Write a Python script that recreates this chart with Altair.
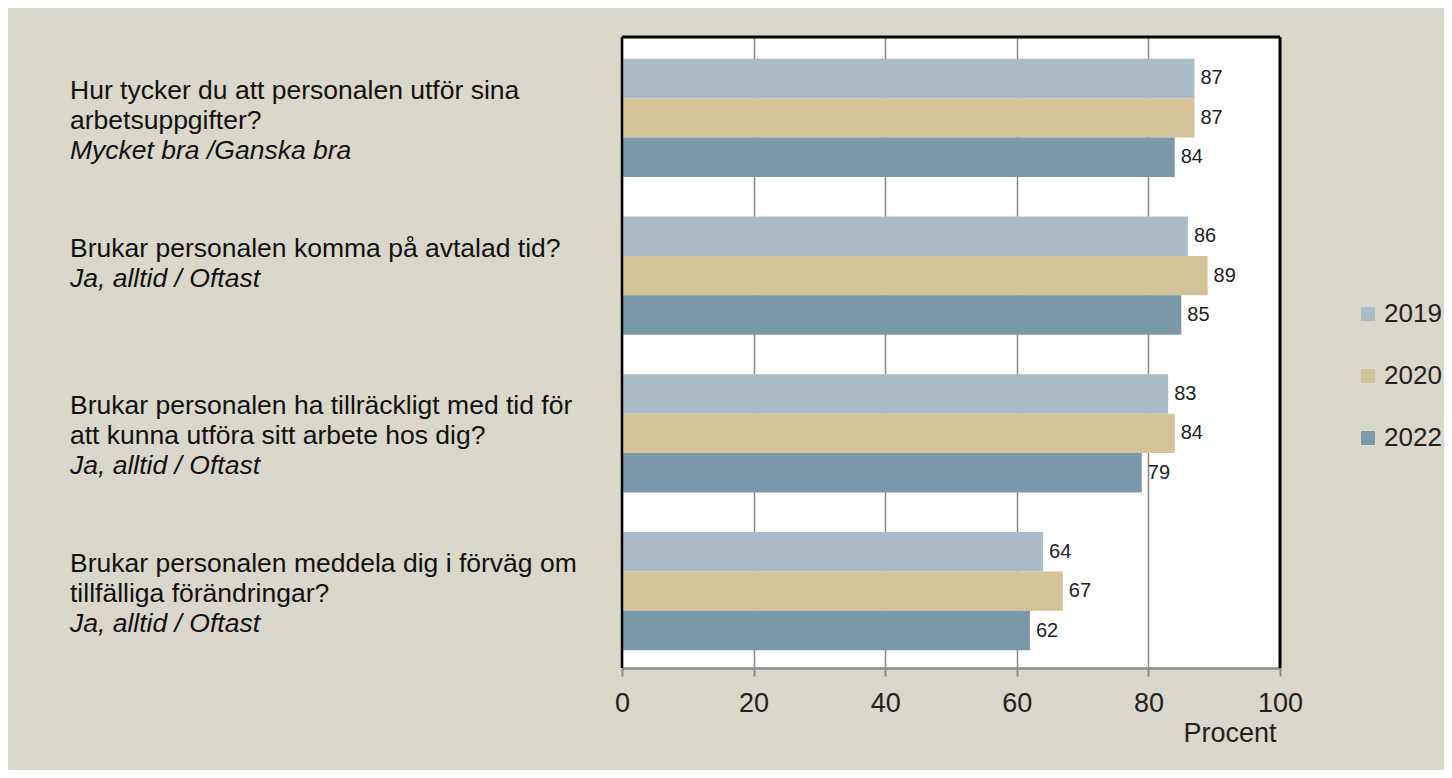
import altair as alt
import pandas as pd

# ---- data ----
keys = ["q1", "q2", "q3", "q4"]
question_lines = [
    ["Hur tycker du att personalen utför sina", "arbetsuppgifter?"],
    ["Brukar personalen komma på avtalad tid?"],
    ["Brukar personalen ha tillräckligt med tid för", "att kunna utföra sitt arbete hos dig?"],
    ["Brukar personalen meddela dig i förväg om", "tillfälliga förändringar?"],
]
answers = ["Mycket bra /Ganska bra", "Ja, alltid / Oftast", "Ja, alltid / Oftast", "Ja, alltid / Oftast"]
years = ["2019", "2020", "2022"]
v2019 = [87, 86, 83, 64]
v2020 = [87, 89, 84, 67]
v2022 = [84, 85, 79, 62]
colors = ["#a9bcc7", "#d4c299", "#7c99aa"]
x_ticks = [0, 20, 40, 60, 80, 100]

# ---- tables ----
rows = []
for i, k in enumerate(keys):
    for y, vals in zip(years, [v2019, v2020, v2022]):
        rows.append({"key": k, "year": y, "value": vals[i]})
bars_df = pd.DataFrame(rows)

trows = []
for i, k in enumerate(keys):
    lines = question_lines[i]
    for j, t in enumerate(lines):
        trows.append({"key": k, "line": j, "italic": False, "text": t})
    trows.append({"key": k, "line": len(lines), "italic": True, "text": answers[i]})
text_df = pd.DataFrame(trows)

W, H = 658, 631
FONT = "Liberation Sans"

y_enc = alt.Y("key:N", scale=alt.Scale(domain=keys, paddingInner=0.25, paddingOuter=0.125, align=0.55), axis=None)
yoff = alt.YOffset("year:N", scale=alt.Scale(domain=years, paddingInner=0, paddingOuter=0))
x_enc = alt.X(
    "value:Q",
    scale=alt.Scale(domain=[0, 100], nice=False),
    axis=alt.Axis(
        values=x_ticks, title="Procent", grid=True, gridColor="#8a8a8a", gridWidth=1.5,
        domainColor="#8a8a8a", domainWidth=2.5, tickColor="#8a8a8a", tickWidth=2, tickSize=8,
        labelFont=FONT, labelFontSize=27, labelColor="#222222", labelPadding=14, labelFlush=False,
        titleFont=FONT, titleFontSize=27, titleFontWeight="normal", titleColor="#222222",
        titleX=654, titleY=73, titleAlign="right", titleBaseline="alphabetic", titleAnchor="end",
    ),
)
color_enc = alt.Color(
    "year:N",
    scale=alt.Scale(domain=years, range=colors),
    legend=alt.Legend(
        title=None, orient="none", legendX=733, legendY=264, symbolType="square", symbolSize=196,
        symbolStrokeWidth=0, symbolOpacity=1, labelFont=FONT, labelFontSize=26, labelColor="#222222",
        labelOffset=3, rowPadding=36, padding=0,
    ),
)

base = alt.Chart(bars_df)
bars = base.mark_bar().encode(x=x_enc, y=y_enc, yOffset=yoff, color=color_enc)
values = base.mark_text(align="left", baseline="middle", dx=6, font=FONT, fontSize=20, color="#222222").encode(
    x="value:Q", y=y_enc, yOffset=yoff, text="value:Q"
)

layers = [bars, values]

for k in range(3):
    for it in (False, True):
        sub = text_df[(text_df["line"] == k) & (text_df["italic"] == it)]
        if len(sub) == 0:
            continue
        kw = dict(align="left", baseline="alphabetic", font=FONT, fontSize=26.5, color="#111111", dy=-19 + 30 * k)
        if it:
            kw["fontStyle"] = "italic"
        layers.append(
            alt.Chart(sub).mark_text(**kw).encode(x=alt.value(-552), y=y_enc, text="text:N")
        )

one = alt.Chart(pd.DataFrame({"a": [0]}))
top_rule = one.mark_rule(color="black", strokeWidth=3).encode(x=alt.value(0), x2=alt.value(W), y=alt.value(0))
left_rule = one.mark_rule(color="black", strokeWidth=2.5).encode(x=alt.value(0), y=alt.value(0), y2=alt.value(H))
right_rule = one.mark_rule(color="black", strokeWidth=3).encode(x=alt.value(W), y=alt.value(0), y2=alt.value(H))
layers += [top_rule, left_rule, right_rule]

chart = (
    alt.layer(*layers)
    .properties(
        width=W, height=H,
        autosize=alt.AutoSizeParams(type="none"),
        padding={"left": 614, "top": 29, "right": 164, "bottom": 102},
        background="#dad7cb",
    )
    .configure_view(fill="white", stroke=None)
)

chart.save("out.html", embed_options={"renderer": "svg", "actions": False})
